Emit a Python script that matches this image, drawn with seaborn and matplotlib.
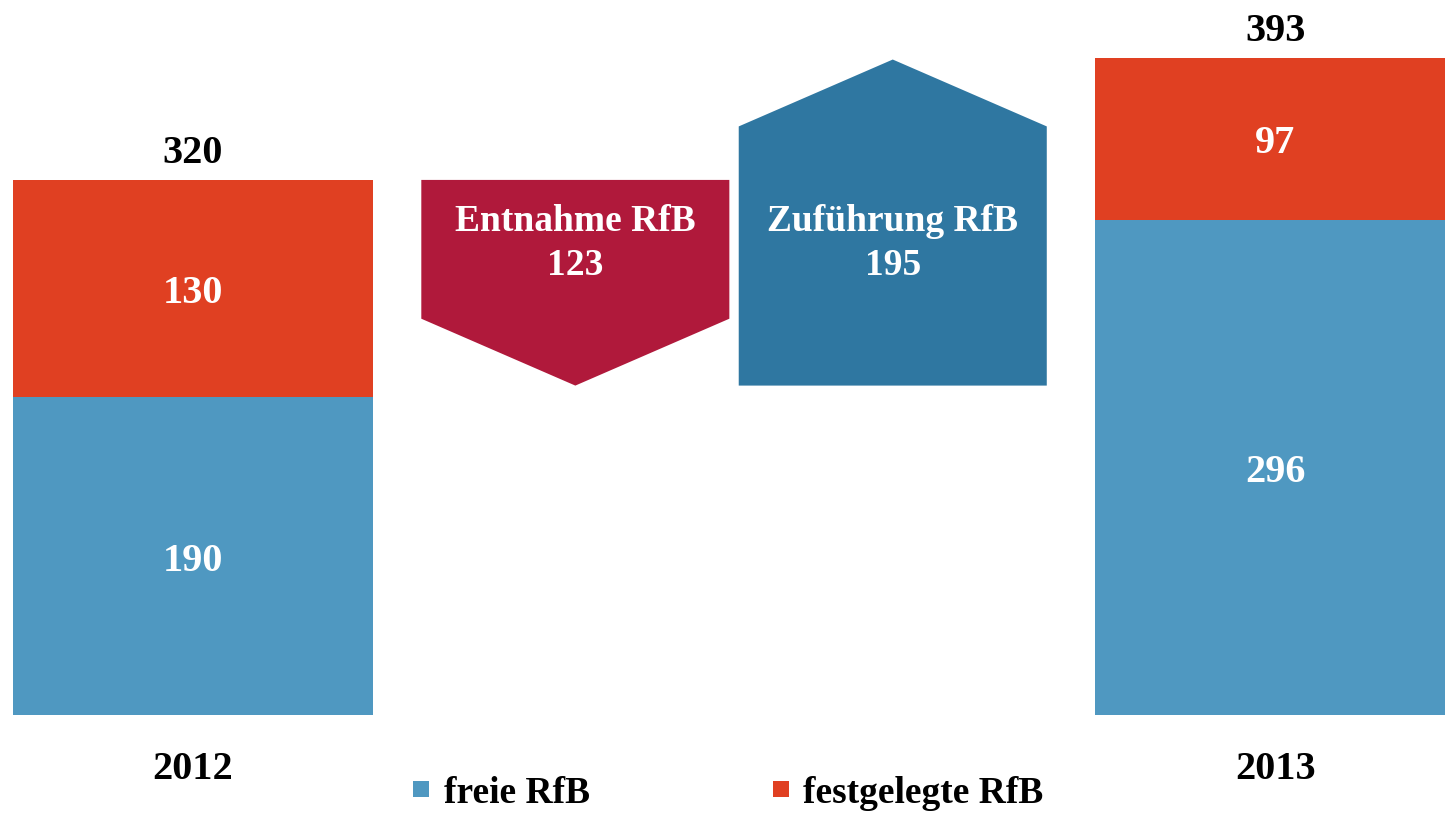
import matplotlib
matplotlib.use("Agg")
import matplotlib.pyplot as plt
from matplotlib.patches import Polygon
from matplotlib.lines import Line2D
import seaborn as sns
import pandas as pd

# Data (Rücklage für Bürgschaften, in Mio.)
YEARS = ["2012", "2013"]
FREIE = [190, 296]
FESTGELEGT = [130, 97]
FLOW_LABELS = ["Entnahme RfB", "Zuführung RfB"]
FLOW_VALUES = [-123, 195]
LEGEND_LABELS = ["freie RfB", "festgelegte RfB"]

# Styling
BLUE = "#4F98C1"
RED = "#E04022"
FLOW_COLORS = ["#B0193B", "#2F77A1"]
FONT = "Liberation Serif"
FS = 29

sns.set_theme(style="white")
plt.rcParams["font.family"] = [FONT, "DejaVu Serif"]
plt.rcParams["font.weight"] = "bold"
plt.rcParams["text.color"] = "black"
plt.rcParams["xtick.color"] = "black"

df = pd.DataFrame({"jahr": YEARS, "freie": FREIE, "fest": FESTGELEGT})
df["gesamt"] = df["freie"] + df["fest"]
order = [YEARS[0]] + FLOW_LABELS + [YEARS[1]]

fig = plt.figure(figsize=(14.45, 8.13), dpi=100)
ax = fig.add_axes([0, 98 / 813, 1, 715 / 813])

# stacked bars: total in red, freie on top in blue
sns.barplot(data=df, x="jahr", y="gesamt", order=order, color=RED,
            width=1.0, linewidth=0, saturation=1, ax=ax)
sns.barplot(data=df, x="jahr", y="freie", order=order, color=BLUE,
            width=1.0, linewidth=0, saturation=1, ax=ax)

ax.set_ylim(0, 427.6)
ax.set_xlim(-0.535, 3.471)

# value labels on the bars
for i, pos in enumerate([0, 3]):
    f, g = FREIE[i], FESTGELEGT[i]
    ax.text(pos, f / 2 - 3, str(f), ha="center", va="center", color="white",
            fontsize=FS, fontweight="bold")
    ax.text(pos, f + g / 2 - 3, str(g), ha="center", va="center", color="white",
            fontsize=FS, fontweight="bold")
    ax.text(pos, f + g + 16, str(f + g), ha="center", va="center",
            color="black", fontsize=FS, fontweight="bold")

# arrow shapes for withdrawal / addition
half = 0.427
head = 40
level = FREIE[0] + FESTGELEGT[0]
text_y = level - 38
centers = [1.5 - 0.44, 1.5 + 0.44]
for c, lab, val, col in zip(centers, FLOW_LABELS, FLOW_VALUES, FLOW_COLORS):
    start, end = level, level + val
    if val < 0:
        pts = [(c - half, start), (c + half, start), (c + half, end + head),
               (c, end), (c - half, end + head)]
    else:
        pts = [(c - half, start), (c + half, start), (c + half, end - head),
               (c, end), (c - half, end - head)]
    ax.add_patch(Polygon(pts, closed=True, facecolor=col, edgecolor="none"))
    ax.text(c, text_y, f"{lab}\n{abs(val)}", ha="center", va="center",
            color="white", fontsize=FS - 2, fontweight="bold", linespacing=1.3)
    level = end

ax.set_xticks([0, 3])
ax.set_xticklabels(YEARS, fontsize=FS, fontweight="bold", color="black")
ax.tick_params(axis="x", length=0, pad=26)
ax.set_yticks([])
ax.set_xlabel("")
ax.set_ylabel("")
sns.despine(ax=ax, left=True, bottom=True)

handles = [Line2D([], [], marker="s", linestyle="none", markersize=12,
                  markerfacecolor=c, markeredgewidth=0) for c in (BLUE, RED)]
leg = fig.legend(handles, LEGEND_LABELS, loc="lower center", bbox_to_anchor=(0.503, -0.02),
                 ncol=2, frameon=False,
                 prop={"family": FONT, "weight": "bold", "size": FS - 2},
                 columnspacing=4.8, handletextpad=0.3, handlelength=0.6, borderpad=0)
for t in leg.get_texts():
    t.set_color("black")

fig.savefig("out.png", dpi=100)
